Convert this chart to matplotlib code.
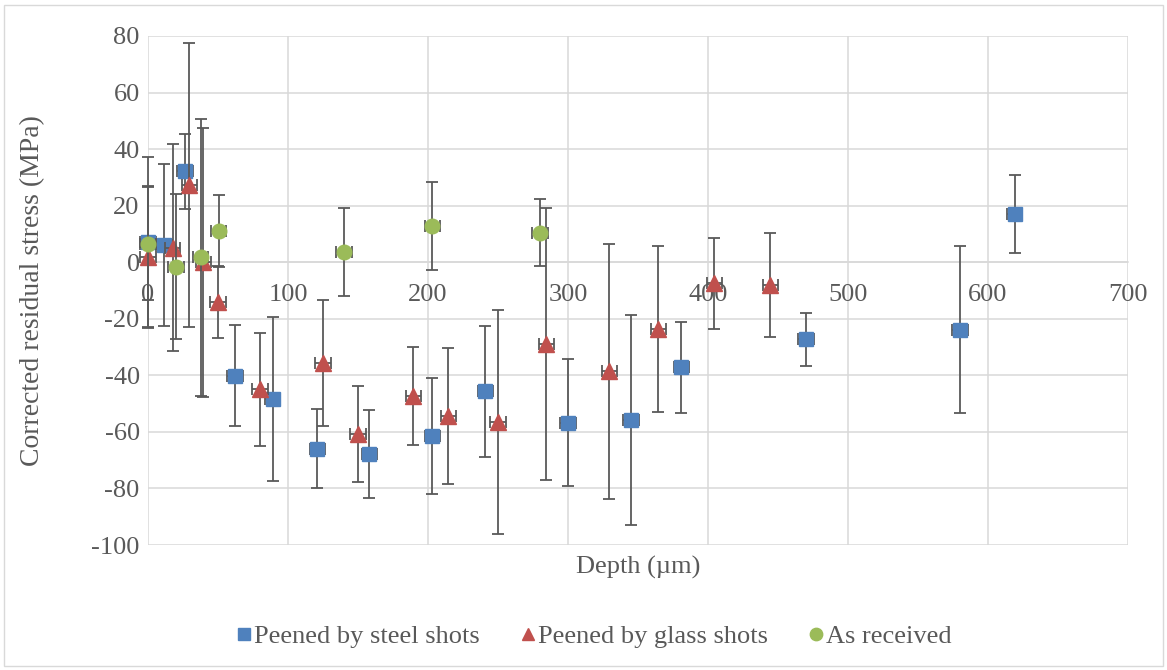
import matplotlib
matplotlib.use("Agg")
import matplotlib.pyplot as plt
from matplotlib.patches import Rectangle

plt.rcParams['font.family'] = ['Liberation Serif', 'DejaVu Serif']
plt.rcParams['axes.unicode_minus'] = False

# Residual stress profiles (depth in µm, stress in MPa, symmetric errors)
steel_depth = [0, 11.5, 26.5, 62, 89, 121, 158, 203, 241, 300, 345, 381, 470, 580, 619]
steel_stress = [7.2, 6.2, 32.1, -40.1, -48.4, -66.0, -67.9, -61.4, -45.7, -56.7, -55.7, -37.2, -27.2, -23.8, 17.1]
steel_err = [30.0, 28.6, 13.2, 17.8, 29.1, 14.0, 15.5, 20.4, 23.1, 22.4, 37.1, 16.0, 9.4, 29.4, 13.8]

glass_depth = [0, 17.5, 29.5, 39.5, 50, 80, 125, 150, 189.5, 214.5, 250, 284.5, 329.5, 364.5, 404.5, 444.5]
glass_stress = [1.8, 5.2, 27.2, 0.0, -14.0, -44.9, -35.5, -60.8, -47.2, -54.3, -56.5, -28.9, -38.5, -23.7, -7.5, -7.9]
glass_err = [25.0, 36.5, 50.2, 47.5, 12.7, 20.0, 22.3, 17.0, 17.3, 24.1, 39.6, 48.0, 45.1, 29.3, 16.1, 18.4]

received_depth = [0, 20, 37.5, 50.5, 140, 203, 280]
received_stress = [6.6, -1.6, 1.7, 11.0, 3.6, 12.7, 10.5]
received_err = [20.0, 25.7, 49.0, 12.7, 15.6, 15.5, 12.0]

depth_err = 5.5

series_labels = ['Peened by steel shots', 'Peened by glass shots', 'As received']
x_ticks = [0, 100, 200, 300, 400, 500, 600, 700]
y_ticks = [-100, -80, -60, -40, -20, 0, 20, 40, 60, 80]

text_color = '#595959'
grid_color = '#D9D9D9'
bar_color = '#595959'
fs = 19

fig = plt.figure(figsize=(11.67, 6.70), dpi=100)
ax = fig.add_axes([148 / 1167, 1 - 545 / 670, 980 / 1167, 509 / 670])

series = [
    (steel_depth, steel_stress, steel_err, 's', '#4F81BD', 10),
    (glass_depth, glass_stress, glass_err, '^', '#C0504D', 11),
    (received_depth, received_stress, received_err, 'o', '#9BBB59', 10.5),
]

handles = []
for i, (d, s, e, m, c, ms) in enumerate(series):
    cont = ax.errorbar(d, s, yerr=e, xerr=depth_err, fmt=m, color=c, ms=ms,
                       mec=c, ecolor=bar_color, elinewidth=1.3, capsize=4.3,
                       capthick=1.3, zorder=3 + i, label=series_labels[i])
    for art in cont.get_children():
        art.set_clip_on(False)
    handles.append(cont[0])

ax.set_xlim(0, 700)
ax.set_ylim(-100, 80)
ax.set_xticks(x_ticks)
ax.set_yticks(y_ticks)
ax.grid(True, color=grid_color, linewidth=1.1, zorder=0)
ax.set_axisbelow(True)

for side in ['top', 'right', 'left']:
    ax.spines[side].set_visible(False)
ax.spines['bottom'].set_position(('data', 0))
ax.spines['bottom'].set_color(grid_color)
ax.spines['bottom'].set_linewidth(1.1)

ax.tick_params(axis='both', length=0, labelsize=fs, labelcolor=text_color)
ax.tick_params(axis='x', pad=16)
ax.tick_params(axis='y', pad=6)

ax.set_xlabel('Depth (µm)', fontsize=fs, color=text_color)
ax.xaxis.set_label_coords(0.5, -0.045)
ax.xaxis.label.set_va('center')
ax.set_ylabel('Corrected residual stress (MPa)', fontsize=20, color=text_color)
ax.yaxis.set_label_coords(-0.118, 0.5)
ax.yaxis.label.set_va('center')

leg = fig.legend(handles, series_labels, loc='center', bbox_to_anchor=(594 / 1167, 1 - 636 / 670),
                 ncol=3, frameon=False, fontsize=fs, handlelength=0.55, handletextpad=0.1,
                 columnspacing=1.55, labelcolor=text_color, markerscale=0.85)

fig.patches.append(Rectangle((4 / 1167, 4 / 670), 1159 / 1167, 661 / 670,
                             transform=fig.transFigure, fill=False,
                             edgecolor=grid_color, linewidth=1.0))

fig.savefig('out.png', dpi=100)
